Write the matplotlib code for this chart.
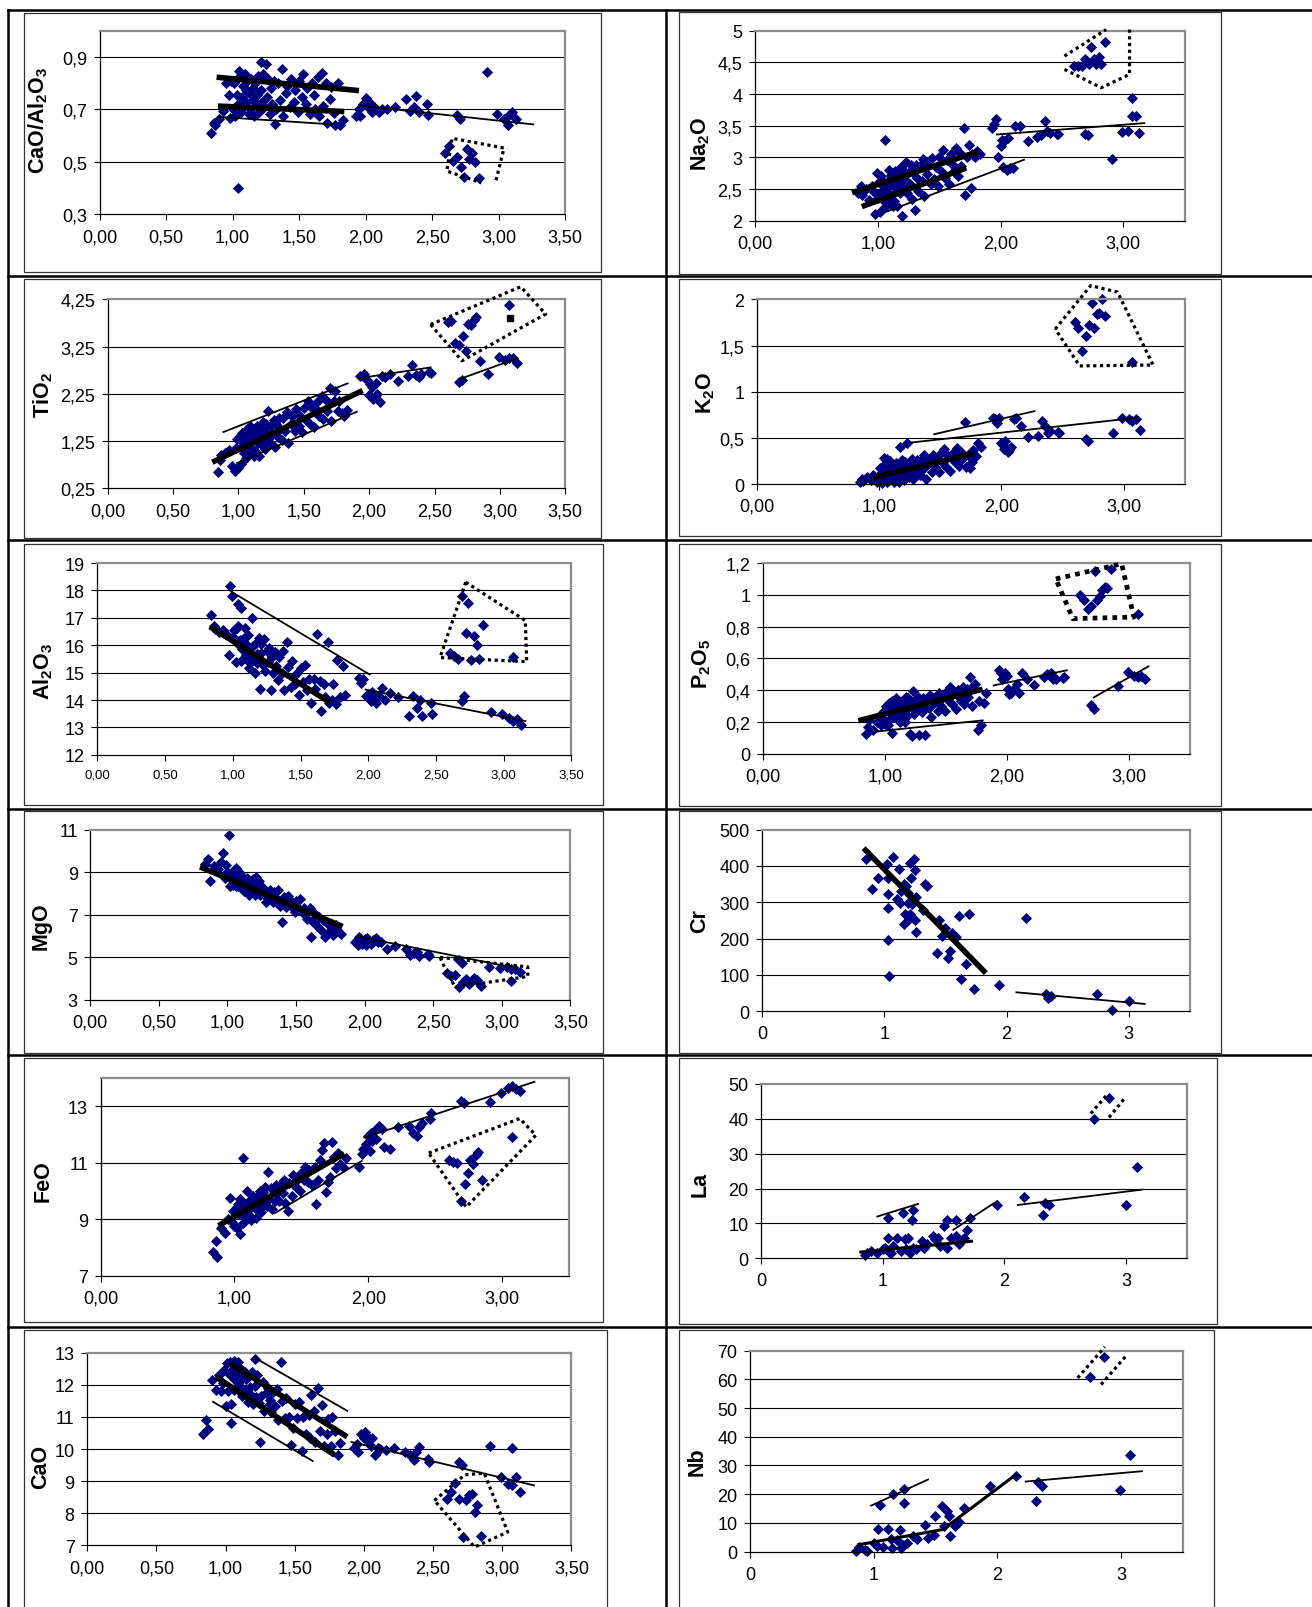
import numpy as np
import matplotlib
matplotlib.use('Agg')
import matplotlib.pyplot as plt
from matplotlib import font_manager
from matplotlib.lines import Line2D
from matplotlib.patches import Rectangle

# reference was read at 1279x1568, output is 1312x1608 (same proportions)
W, H = 1279.0, 1568.0

# ===== shared x (FeO*/MgO) for the oxide panels =====
X_OX = [
    # main cluster
    0.84, 0.86, 0.87, 0.90, 0.93, 0.95, 0.97, 0.98, 0.99, 1.00,
    1.01, 1.02, 1.03, 1.03, 1.04, 1.05, 1.06, 1.06, 1.07, 1.08,
    1.08, 1.09, 1.10, 1.10, 1.11, 1.12, 1.12, 1.13, 1.14, 1.15,
    1.15, 1.16, 1.17, 1.18, 1.18, 1.19, 1.20, 1.21, 1.21, 1.22,
    1.23, 1.24, 1.25, 1.26, 1.27, 1.28, 1.29, 1.30, 1.31, 1.32,
    1.33, 1.34, 1.36, 1.37, 1.38, 1.40, 1.41, 1.43, 1.44, 1.46,
    1.47, 1.49, 1.50, 1.52, 1.53, 1.55, 1.56, 1.58, 1.60, 1.61,
    1.62, 1.64, 1.65, 1.67, 1.68, 1.70, 1.71, 1.73, 1.74, 1.76,
    1.77, 1.79, 1.81, 1.83, 1.04,
    # around 2
    1.93, 1.95, 1.96, 1.98, 2.00, 2.01, 2.02, 2.03, 2.05, 2.06, 2.08,
    2.10, 2.12, 2.16, 2.22, 2.30, 2.33, 2.36, 2.38, 2.40, 2.46, 2.47,
    # dotted group
    2.60, 2.63, 2.66, 2.69, 2.72, 2.74, 2.76, 2.78, 2.80, 2.82, 2.85, 3.07,
    # high ratio
    2.69, 2.71, 2.91, 2.99, 3.04, 3.07, 3.10, 3.13,
]

Y_CAO_AL2O3 = [
    0.61, 0.65, 0.64, 0.665, 0.693, 0.80, 0.756, 0.666, 0.81, 0.702,
    0.80, 0.674, 0.755, 0.818, 0.719, 0.845, 0.692, 0.827, 0.746, 0.791,
    0.71, 0.836, 0.728, 0.773, 0.809, 0.683, 0.764, 0.701, 0.818, 0.737,
    0.782, 0.674, 0.80, 0.755, 0.719, 0.827, 0.692, 0.88, 0.773, 0.728,
    0.836, 0.71, 0.875, 0.746, 0.818, 0.683, 0.782, 0.719, 0.809, 0.645,
    0.701, 0.80, 0.737, 0.855, 0.674, 0.764, 0.791, 0.71, 0.818, 0.728,
    0.773, 0.692, 0.809, 0.746, 0.836, 0.719, 0.782, 0.683, 0.80, 0.755,
    0.703, 0.825, 0.676, 0.84, 0.712, 0.802, 0.649, 0.739, 0.784, 0.685,
    0.64, 0.80, 0.64, 0.66, 0.40,
    0.675, 0.70, 0.675, 0.72, 0.745, 0.735, 0.71, 0.725, 0.69, 0.71, 0.70,
    0.69, 0.70, 0.70, 0.71, 0.74, 0.695, 0.71, 0.75, 0.69, 0.72, 0.68,
    0.535, 0.56, 0.504, 0.52, 0.48, 0.444, 0.55, 0.51, 0.533, 0.50, 0.437, 0.64,
    0.68, 0.665, 0.842, 0.684, 0.665, 0.675, 0.69, 0.665,
]

Y_NA2O = [
    2.43, 2.55, 2.40, 2.50, 2.33, 2.55, 2.45, 2.10, 2.75, 2.35,
    2.61, 2.13, 2.45, 2.70, 2.32, 2.57, 2.22, 3.27, 2.46, 2.63,
    2.31, 2.80, 2.40, 2.58, 2.72, 2.23, 2.55, 2.31, 2.78, 2.47,
    2.64, 2.23, 2.73, 2.56, 2.43, 2.85, 2.07, 2.79, 2.65, 2.48,
    2.92, 2.43, 2.75, 2.58, 2.87, 2.34, 2.75, 2.17, 2.87, 2.67,
    2.46, 2.86, 2.62, 2.97, 2.38, 2.74, 2.88, 2.58, 2.99, 2.66,
    2.85, 2.55, 3.00, 2.77, 3.12, 2.67, 2.95, 2.58, 3.05, 2.88,
    2.78, 3.15, 2.70, 3.06, 2.86, 3.47, 2.41, 3.00, 3.20, 2.52,
    3.05, 3.00, 3.10, 3.05, 2.55,
    3.47, 3.52, 3.60, 3.00, 3.18, 3.28, 2.85, 3.25, 2.80, 3.30, 2.83,
    2.83, 3.50, 3.50, 3.25, 3.32, 3.35, 3.57, 3.42, 3.38, 3.37, 3.37,
    4.45, 4.45, 4.45, 4.55, 4.47, 4.75, 4.55, 4.47, 4.58, 4.47, 4.83, 3.65,
    3.37, 3.35, 2.98, 3.40, 3.42, 3.93, 3.65, 3.38,
]

Y_TIO2 = [
    0.60, 0.85, 0.95, 1.00, 1.05, 0.72, 0.62, 1.10, 1.30, 0.67,
    1.31, 0.77, 1.14, 1.42, 0.99, 1.27, 0.89, 1.48, 1.14, 1.35,
    1.00, 1.57, 1.10, 1.30, 1.47, 0.93, 1.29, 1.04, 1.56, 1.21,
    1.41, 0.94, 1.52, 1.33, 1.17, 1.66, 1.08, 1.61, 1.45, 1.26,
    1.88, 1.20, 1.57, 1.37, 1.70, 1.12, 1.62, 1.33, 1.74, 1.51,
    1.28, 1.74, 1.47, 1.87, 1.20, 1.62, 1.77, 1.46, 1.93, 1.57,
    1.78, 1.45, 1.95, 1.70, 2.09, 1.62, 1.95, 1.54, 2.08, 1.89,
    1.78, 2.21, 1.71, 2.12, 1.89, 2.37, 1.68, 2.10, 2.30, 1.88,
    2.10, 1.85, 1.79, 1.90, 1.20,
    2.63, 2.62, 2.68, 2.55, 2.22, 2.45, 2.40, 2.15, 2.48, 2.25, 2.08,
    2.62, 2.60, 2.68, 2.52, 2.63, 2.87, 2.65, 2.60, 2.68, 2.72, 2.70,
    3.78, 3.79, 3.32, 3.28, 3.48, 3.15, 3.73, 3.70, 3.82, 3.87, 2.95, 4.13,
    2.51, 2.55, 2.68, 3.04, 2.97, 3.00, 3.00, 2.90,
]
X_TIO2_REF, Y_TIO2_REF = [3.08], [3.85]   # black square

Y_K2O = [
    0.02, 0.05, 0.03, 0.08, 0.04, 0.10, 0.06, 0.02, 0.09, 0.05,
    0.17, 0.01, 0.10, 0.20, 0.04, 0.15, 0.02, 0.27, 0.09, 0.17,
    0.04, 0.25, 0.07, 0.15, 0.21, 0.02, 0.14, 0.04, 0.23, 0.10,
    0.18, 0.02, 0.40, 0.14, 0.08, 0.26, 0.04, 0.24, 0.18, 0.10,
    0.45, 0.08, 0.22, 0.15, 0.27, 0.05, 0.21, 0.11, 0.26, 0.18,
    0.10, 0.26, 0.16, 0.31, 0.06, 0.22, 0.27, 0.13, 0.32, 0.18,
    0.26, 0.13, 0.33, 0.23, 0.38, 0.19, 0.30, 0.14, 0.34, 0.27,
    0.24, 0.39, 0.20, 0.35, 0.27, 0.67, 0.18, 0.32, 0.17, 0.24,
    0.37, 0.30, 0.44, 0.40, 0.28,
    0.72, 0.70, 0.66, 0.72, 0.45, 0.42, 0.38, 0.47, 0.35, 0.37, 0.40,
    0.70, 0.72, 0.63, 0.51, 0.52, 0.68, 0.63, 0.55, 0.57, 0.56, 0.55,
    1.76, 1.69, 1.44, 1.60, 1.72, 1.96, 1.69, 1.84, 1.85, 2.00, 1.82, 1.32,
    0.49, 0.47, 0.55, 0.72, 0.70, 0.68, 0.71, 0.59,
]

Y_AL2O3 = [
    17.1, 16.7, 16.6, 16.5, 16.55, 16.4, 15.65, 18.15, 17.8, 16.3,
    16.54, 15.40, 16.08, 16.64, 17.5, 16.2, 15.42, 17.35, 15.88, 16.25,
    15.53, 16.62, 15.66, 16.06, 16.38, 15.18, 15.88, 15.34, 17.0, 15.57,
    15.97, 15.0, 16.09, 15.67, 15.35, 16.26, 14.4, 16.06, 15.7, 15.29,
    16.22, 15.07, 15.8, 15.39, 15.9, 14.35, 15.57, 15.0, 15.74, 15.24,
    14.73, 15.58, 14.98, 15.79, 14.38, 16.1, 15.22, 14.48, 15.43, 14.59,
    14.96, 14.18, 15.16, 14.66, 15.29, 14.35, 14.75, 13.89, 14.75, 14.4,
    16.4, 14.7, 13.6, 14.6, 14.1, 16.1, 13.9, 14.0, 14.6, 13.85,
    15.45, 14.1, 15.25, 14.2, 16.7,
    14.8, 14.62, 14.75, 14.15, 14.2, 14.05, 13.95, 14.3, 14.0, 13.9, 14.15,
    14.45, 14.0, 14.25, 14.1, 13.42, 14.15, 13.7, 14.0, 13.4, 13.9, 13.5,
    15.7, 15.6, 15.5, 17.8, 16.45, 17.55, 15.45, 16.35, 16.0, 15.5, 16.75, 15.57,
    13.95, 14.15, 13.55, 13.48, 13.35, 13.25, 13.3, 13.08,
]

Y_P2O5 = [
    0.125, 0.17, 0.21, 0.15, 0.20, 0.24, 0.18, 0.22, 0.27, 0.19,
    0.30, 0.18, 0.26, 0.32, 0.22, 0.29, 0.13, 0.33, 0.25, 0.30,
    0.23, 0.35, 0.24, 0.29, 0.32, 0.20, 0.28, 0.22, 0.33, 0.25,
    0.31, 0.20, 0.36, 0.28, 0.24, 0.35, 0.125, 0.33, 0.30, 0.11,
    0.395, 0.25, 0.33, 0.28, 0.36, 0.12, 0.32, 0.26, 0.35, 0.30,
    0.12, 0.35, 0.29, 0.37, 0.23, 0.32, 0.35, 0.27, 0.38, 0.30,
    0.35, 0.27, 0.39, 0.33, 0.42, 0.31, 0.38, 0.28, 0.40, 0.36,
    0.33, 0.42, 0.31, 0.41, 0.36, 0.485, 0.30, 0.43, 0.44, 0.15,
    0.33, 0.18, 0.32, 0.38, 0.28,
    0.525, 0.51, 0.47, 0.51, 0.49, 0.41, 0.375, 0.385, 0.40, 0.41, 0.44,
    0.38, 0.51, 0.47, 0.43, 0.48, 0.50, 0.51, 0.47, 0.47, 0.475, 0.48,
    1.00, 0.97, 0.91, 0.93, 1.15, 0.97, 0.99, 1.03, 1.05, 1.04, 1.165, 0.88,
    0.305, 0.28, 0.425, 0.515, 0.49, 0.48, 0.49, 0.47,
]

Y_MGO = [
    9.37, 9.6, 8.6, 9.3, 9.15, 9.5, 9.9, 8.75, 9.35, 9.0,
    10.73, 8.33, 8.71, 9.03, 8.51, 8.82, 8.37, 9.21, 8.55, 8.75,
    8.35, 8.95, 8.38, 8.57, 8.74, 8.12, 8.49, 8.16, 8.72, 8.29,
    8.52, 7.95, 8.58, 8.32, 8.14, 8.67, 7.92, 8.77, 8.31, 8.06,
    8.57, 7.91, 8.29, 8.0, 8.23, 7.59, 8.0, 7.77, 8.18, 7.91,
    7.61, 8.08, 7.74, 8.15, 7.42, 6.65, 7.82, 7.35, 7.89, 7.39,
    7.58, 7.12, 7.67, 7.29, 7.72, 7.08, 7.31, 6.80, 7.30, 5.95,
    6.70, 7.05, 6.45, 6.90, 6.30, 6.75, 5.95, 6.55, 6.20, 6.40,
    6.03, 6.50, 6.18, 6.10, 8.40,
    5.72, 5.57, 5.95, 5.63, 5.88, 5.60, 5.90, 5.75, 5.65, 5.80, 5.89,
    5.70, 5.72, 5.40, 5.55, 5.40, 5.10, 5.20, 5.25, 5.05, 5.15, 5.08,
    4.25, 4.10, 4.15, 3.60, 3.85, 3.99, 3.75, 3.90, 4.05, 3.95, 3.65, 3.88,
    4.86, 4.75, 4.55, 4.48, 4.55, 4.45, 4.45, 4.33,
]

Y_FEO = [
    7.83, 8.22, 7.67, 8.70, 8.50, 9.00, 9.76, 8.90, 9.30, 8.75,
    9.38, 8.70, 9.18, 9.53, 8.48, 9.35, 8.86, 11.18, 9.21, 9.51,
    9.06, 10.0, 9.18, 9.44, 9.64, 8.96, 9.43, 9.06, 9.81, 9.39,
    9.64, 9.06, 9.77, 9.56, 9.36, 9.99, 9.26, 9.95, 9.74, 9.51,
    10.14, 9.46, 10.67, 9.71, 10.11, 9.35, 10.02, 9.66, 10.20, 9.92,
    9.64, 10.22, 9.92, 10.39, 9.56, 9.30, 10.27, 9.83, 10.56, 10.13,
    10.40, 10.00, 10.65, 10.38, 10.84, 10.30, 10.74, 10.21, 10.85, 9.55,
    10.40, 11.10, 11.45, 11.68, 9.95, 10.30, 10.50, 11.73, 11.20, 10.80,
    11.35, 10.97, 10.85, 11.15, 9.70,
    10.83, 11.30, 11.50, 11.65, 11.95, 11.40, 12.05, 11.75, 12.15, 11.85, 12.30,
    12.20, 11.55, 11.50, 12.25, 12.30, 12.05, 11.95, 12.25, 12.40, 12.55, 12.75,
    11.10, 11.02, 11.00, 9.66, 10.23, 10.64, 11.08, 10.96, 11.26, 11.38, 10.40, 11.89,
    13.18, 13.10, 13.15, 13.45, 13.65, 13.72, 13.60, 13.55,
]

Y_CAO = [
    10.48, 10.90, 10.64, 12.15, 11.85, 12.30, 11.80, 12.05, 12.45, 11.35,
    12.67, 11.80, 12.32, 12.72, 10.80, 12.45, 11.84, 12.74, 12.15, 12.42,
    11.88, 12.70, 11.98, 12.27, 12.49, 11.64, 12.18, 11.72, 12.40, 11.87,
    12.17, 11.45, 12.28, 11.94, 11.70, 12.40, 11.39, 12.79, 11.97, 11.62,
    12.31, 11.44, 10.22, 11.66, 12.10, 11.20, 11.76, 11.30, 11.90, 11.53,
    11.14, 11.77, 11.33, 11.87, 10.90, 12.72, 11.50, 10.98, 11.60, 11.00,
    10.12, 10.67, 11.41, 10.98, 11.48, 9.93, 11.00, 10.46, 11.06, 10.33,
    11.68, 11.17, 10.22, 11.89, 10.55, 11.37, 10.10, 10.48, 10.95, 10.10,
    11.00, 10.55, 9.81, 10.20, 11.40,
    10.02, 10.17, 9.91, 10.48, 10.33, 10.54, 10.28, 10.38, 10.09, 10.33, 9.81,
    10.02, 10.00, 9.98, 10.02, 9.91, 9.80, 9.65, 9.90, 10.05, 9.70, 9.60,
    8.46, 8.67, 8.93, 8.46, 7.26, 8.41, 8.56, 8.59, 8.04, 8.25, 7.31, 8.88,
    9.60, 9.50, 10.09, 9.13, 8.92, 10.02, 9.13, 8.67,
]

# ===== trace elements (own sample sets) =====
X_CR = [0.85, 0.90, 0.95, 1.02, 1.03, 1.03, 1.03, 1.03, 1.04, 1.07,
        1.12, 1.13, 1.16, 1.16, 1.17, 1.19, 1.21, 1.21, 1.22, 1.23,
        1.24, 1.25, 1.25, 1.26, 1.33, 1.35, 1.32, 1.43, 1.47, 1.50,
        1.52, 1.54, 1.59, 1.61, 1.63, 1.67, 1.69, 1.73, 1.94, 2.16,
        2.32, 2.34, 2.36, 2.74, 2.86, 3.00,
        1.19, 1.26, 1.20, 1.14, 1.10, 1.45, 1.55, 1.18]
Y_CR = [420, 337, 368, 405, 368, 322, 285, 195, 97, 425,
        393, 299, 351, 241, 269, 326, 408, 269, 368, 294,
        420, 388, 250, 217, 351, 345, 278, 160, 206, 230,
        147, 167, 204, 262, 89, 130, 268, 61, 72, 257,
        46, 37, 43, 48, 4, 27,
        297, 314, 255, 330, 310, 250, 215, 345]

X_LA = [0.85, 0.87, 0.90, 0.95, 1.00, 1.02, 1.04, 1.04, 1.05, 1.07,
        1.08, 1.12, 1.15, 1.17, 1.18, 1.19, 1.21, 1.22, 1.24, 1.25,
        1.25, 1.27, 1.32, 1.34, 1.36, 1.41, 1.43, 1.45, 1.47, 1.50,
        1.53, 1.53, 1.56, 1.60, 1.60, 1.63, 1.67, 1.69, 1.72, 1.94,
        2.16, 2.32, 2.33, 2.37, 2.74, 2.86, 3.00, 3.09]
Y_LA = [0.9, 1.6, 2.1, 1.6, 2.6, 3.0, 5.9, 11.5, 1.8, 1.6,
        3.5, 5.9, 2.1, 13.0, 5.4, 2.6, 5.9, 1.6, 11.0, 13.9,
        3.0, 2.6, 4.9, 3.0, 4.0, 6.3, 5.4, 5.9, 3.5, 9.2,
        3.0, 11.0, 5.9, 11.0, 6.3, 4.0, 5.9, 8.2, 11.5, 15.3,
        17.7, 12.3, 15.9, 15.3, 39.9, 46.1, 15.3, 26.2]

X_NB = [0.86, 0.88, 0.93, 0.95, 1.00, 1.03, 1.04, 1.05, 1.08, 1.12,
        1.14, 1.15, 1.16, 1.19, 1.21, 1.22, 1.24, 1.25, 1.25, 1.27,
        1.32, 1.35, 1.42, 1.44, 1.49, 1.50, 1.55, 1.57, 1.59, 1.61,
        1.62, 1.66, 1.69, 1.73, 1.94, 2.15, 2.31, 2.33, 2.36, 2.75,
        2.86, 2.99, 3.07]
Y_NB = [0.3, 1.6, 0.7, 0.2, 3.0, 2.1, 7.9, 16.1, 1.6, 7.9,
        4.4, 1.3, 20.2, 4.2, 7.4, 1.3, 2.4, 16.9, 21.8, 3.0,
        5.3, 4.4, 9.4, 4.8, 5.9, 12.3, 15.8, 8.8, 14.0, 12.3,
        5.3, 8.8, 10.2, 15.2, 23.0, 26.5, 17.5, 24.2, 22.8, 60.7,
        67.8, 21.6, 33.7]

# ===== trend lines and outlined groups (data coordinates) =====
THICK_CAO_AL2O3 = [[(0.88, 0.823), (1.95, 0.772)], [(0.89, 0.713), (1.84, 0.692)]]
THIN_CAO_AL2O3 = [[(0.89, 0.672), (1.75, 0.643)], [(1.95, 0.715), (3.26, 0.643)]]
DOTS_CAO_AL2O3 = [[(2.98, 0.43), (3.04, 0.553), (2.65, 0.59), (2.61, 0.465), (2.87, 0.42)]]

THICK_NA2O = [[(0.79, 2.44), (1.82, 3.09)], [(0.87, 2.22), (1.72, 2.83)]]
THIN_NA2O = [[(1.07, 2.14), (2.19, 2.96)], [(1.97, 3.36), (3.17, 3.54)]]
DOTS_NA2O = [[(2.52, 4.60), (2.86, 5.02)],
             [(3.05, 5.02), (3.05, 4.31), (2.82, 4.10), (2.52, 4.39)]]

THICK_TIO2 = [[(0.80, 0.80), (1.95, 2.32)]]
THIN_TIO2 = [[(0.885, 1.44), (1.835, 2.47)], [(0.99, 0.78), (1.906, 1.87)],
             [(1.92, 2.58), (2.47, 2.81)], [(2.69, 2.56), (3.13, 3.0)]]
DOTS_TIO2 = [[(2.47, 3.72), (3.16, 4.52), (3.35, 3.94), (2.71, 2.95), (2.47, 3.72)]]

THICK_K2O = [[(0.95, 0.07), (1.77, 0.33)]]
THIN_K2O = [[(1.26, 0.45), (3.12, 0.72)], [(1.45, 0.54), (2.27, 0.79)]]
DOTS_K2O = [[(2.44, 1.68), (2.73, 2.15), (2.95, 2.08), (3.24, 1.29), (2.64, 1.28), (2.44, 1.68)]]

THICK_AL2O3 = [[(0.83, 16.68), (1.72, 13.9)]]
THIN_AL2O3 = [[(0.99, 17.95), (2.01, 14.93)], [(1.98, 14.38), (3.16, 13.23)]]
DOTS_AL2O3 = [[(2.72, 18.3), (3.16, 16.9), (3.17, 15.4), (2.53, 15.55), (2.72, 18.3)]]

THICK_P2O5 = [[(0.78, 0.208), (1.80, 0.406)]]
THIN_P2O5 = [[(0.93, 0.14), (1.80, 0.21)], [(1.89, 0.43), (2.49, 0.525)],
             [(2.71, 0.354), (3.16, 0.55)]]
DOTS_P2O5 = [[(2.40, 1.10), (2.94, 1.195), (3.04, 0.86), (2.54, 0.85), (2.40, 1.10)]]

THICK_MGO = [[(0.80, 9.25), (1.84, 6.45)]]
THIN_MGO = [[(1.95, 5.98), (3.10, 4.50)]]
DOTS_MGO = [[(2.55, 5.0), (3.19, 4.55), (3.19, 4.1), (2.66, 3.6), (2.57, 4.7), (2.55, 5.0)]]

THICK_CR = [[(0.83, 449), (1.83, 105)]]
THIN_CR = [[(2.08, 52), (3.13, 20)]]

THICK_FEO = [[(0.88, 8.77), (1.82, 11.32)]]
THIN_FEO = [[(1.30, 9.21), (1.95, 11.06)], [(1.97, 11.89), (3.24, 13.86)]]
DOTS_FEO = [[(2.45, 11.34), (3.13, 12.56), (3.25, 11.97), (2.73, 9.43), (2.45, 11.34)]]

MID_LA = [[(0.82, 1.8), (1.73, 4.9)]]
THIN_LA = [[(0.955, 12.0), (1.29, 15.6)], [(1.58, 8.2), (1.94, 16.4)], [(2.11, 15.3), (3.13, 19.7)]]
DOTS_LA = [[(2.71, 41.5), (2.85, 47.2)], [(2.86, 40.4), (2.99, 46.0)]]

THICK_CAO = [[(1.03, 12.67), (1.88, 10.38)], [(0.93, 12.25), (1.79, 9.81)]]
THIN_CAO = [[(1.22, 12.82), (1.88, 11.19)], [(0.91, 11.47), (1.63, 9.63)],
            [(1.91, 10.22), (3.23, 8.87)]]
DOTS_CAO = [[(2.51, 8.4), (2.73, 9.2), (2.87, 9.25), (3.04, 7.42), (2.80, 6.95), (2.51, 8.4)]]

MID_NB = [[(0.88, 2.4), (1.56, 7.7), (2.15, 26.8)]]
THIN_NB = [[(0.98, 16.0), (1.44, 25.1)], [(2.23, 24.4), (3.17, 28.0)]]
DOTS_NB = [[(2.65, 60.5), (2.87, 71.3)], [(2.84, 58.2), (3.05, 68.6)]]

# ===== axis ticks =====
XT_HALF = [0, 0.5, 1, 1.5, 2, 2.5, 3, 3.5]
XT_UNIT = [0, 1, 2, 3]
YT_CAO_AL2O3 = [0.3, 0.5, 0.7, 0.9]
YT_NA2O = [2, 2.5, 3, 3.5, 4, 4.5, 5]
YT_TIO2 = [0.25, 1.25, 2.25, 3.25, 4.25]
YT_K2O = [0, 0.5, 1, 1.5, 2]
YT_AL2O3 = [12, 13, 14, 15, 16, 17, 18, 19]
YT_P2O5 = [0, 0.2, 0.4, 0.6, 0.8, 1.0, 1.2]
YT_MGO = [3, 5, 7, 9, 11]
YT_CR = [0, 100, 200, 300, 400, 500]
YT_FEO = [7, 9, 11, 13]
YT_LA = [0, 10, 20, 30, 40, 50]
YT_CAO = [7, 8, 9, 10, 11, 12, 13]
YT_NB = [0, 10, 20, 30, 40, 50, 60, 70]

# ===== fonts =====
installed = {f.name for f in font_manager.fontManager.ttflist}
TICK_FONT = 'Liberation Sans Narrow' if 'Liberation Sans Narrow' in installed else 'Liberation Sans'
plt.rcParams['font.family'] = ['Liberation Sans', 'DejaVu Sans']
plt.rcParams['mathtext.fontset'] = 'custom'
plt.rcParams['mathtext.rm'] = 'Liberation Sans'
plt.rcParams['mathtext.bf'] = 'Liberation Sans:bold'
plt.rcParams['mathtext.it'] = 'Liberation Sans:italic'

NAVY = '#000080'
TICK_SIZE = 13.5 if TICK_FONT.endswith('Narrow') else 13


def comma(v, fmt):
    return (fmt % v).replace('.', ',')


def fig_line(fig, x0, y0, x1, y1, lw=1.8):
    fig.add_artist(Line2D([x0 / W, x1 / W], [1 - y0 / H, 1 - y1 / H],
                          transform=fig.transFigure, color='black', lw=lw))


def draw_panel(fig, p):
    bx0, by0, bx1, by1 = p['box']
    fig.add_artist(Rectangle((bx0 / W, 1 - by1 / H), (bx1 - bx0) / W, (by1 - by0) / H,
                             transform=fig.transFigure, fill=False, ec='#333333', lw=0.9))
    px0, py0, px1, py1 = p['plot']
    ax = fig.add_axes([px0 / W, 1 - py1 / H, (px1 - px0) / W, (py1 - py0) / H])
    ax.set_xlim(0, 3.5)
    ax.set_ylim(*p['ylim'])

    for s in ('top', 'right'):
        ax.spines[s].set_color('#8c8c8c')
        ax.spines[s].set_linewidth(1.6)
    for s in ('left', 'bottom'):
        ax.spines[s].set_color('black')
        ax.spines[s].set_linewidth(0.9)

    yt = p['yt']
    for t in yt:
        if p['ylim'][0] < t < p['ylim'][1]:
            ax.axhline(t, color='black', lw=0.8, zorder=0.5)
    ax.set_yticks(yt)
    ax.set_yticklabels([comma(v, '%g') for v in yt], fontfamily=TICK_FONT, fontsize=TICK_SIZE)
    ax.set_xticks(p['xt'])
    ax.set_xticklabels([comma(v, p['xfmt']) for v in p['xt']], fontfamily=TICK_FONT,
                       fontsize=p.get('xsize', TICK_SIZE))
    ax.tick_params(direction='out', length=4, width=0.8, color='black')
    ax.tick_params(axis='y', pad=5)
    ax.tick_params(axis='x', pad=6)

    ax.plot(p['x'], p['y'], 'D', color=NAVY, ms=5.6, mec=NAVY, mew=0.6, zorder=2, clip_on=False)
    if 'ref' in p:
        ax.plot(p['ref'][0], p['ref'][1], 's', color='black', ms=4.5, zorder=3)

    for seg in p.get('thick', []):
        xs, ys = zip(*seg)
        ax.plot(xs, ys, color='black', lw=4.0, solid_capstyle='butt', zorder=4)
    for seg in p.get('mid', []):
        xs, ys = zip(*seg)
        ax.plot(xs, ys, color='black', lw=2.2, zorder=4)
    for seg in p.get('thin', []):
        xs, ys = zip(*seg)
        ax.plot(xs, ys, color='black', lw=1.3, zorder=4)
    for seg in p.get('dots', []):
        xs, ys = zip(*seg)
        ax.plot(xs, ys, color='black', lw=p.get('dot_lw', 2.3), linestyle=(0, (1, 1.1)),
                zorder=5, clip_on=False)

    lx, ly = p['lab']
    fig.text(lx / W, 1 - ly / H, p['label'], rotation=90, ha='center', va='center',
             fontsize=15.5, fontweight='bold')
    return ax


PANELS = [
    dict(box=(23, 14, 586, 266), plot=(97, 31, 551, 210), lab=(37, 117),
         label=r'$\mathbf{CaO/Al_2O_3}$', x=X_OX, y=Y_CAO_AL2O3, ylim=(0.3, 1.0),
         yt=YT_CAO_AL2O3, xt=XT_HALF, xfmt='%.2f',
         thick=THICK_CAO_AL2O3, thin=THIN_CAO_AL2O3, dots=DOTS_CAO_AL2O3),
    dict(box=(662, 13, 1190, 268), plot=(736, 31, 1155, 216), lab=(683, 140),
         label=r'$\mathbf{Na_2O}$', x=X_OX, y=Y_NA2O, ylim=(2, 5),
         yt=YT_NA2O, xt=XT_UNIT, xfmt='%.2f',
         thick=THICK_NA2O, thin=THIN_NA2O, dots=DOTS_NA2O),
    dict(box=(23, 273, 586, 526), plot=(105, 293, 551, 477), lab=(42, 385),
         label=r'$\mathbf{TiO_2}$', x=X_OX, y=Y_TIO2, ylim=(0.25, 4.25),
         yt=YT_TIO2, xt=XT_HALF, xfmt='%.2f', ref=(X_TIO2_REF, Y_TIO2_REF),
         thick=THICK_TIO2, thin=THIN_TIO2, dots=DOTS_TIO2),
    dict(box=(662, 273, 1190, 524), plot=(738, 293, 1155, 473), lab=(688, 383),
         label=r'$\mathbf{K_2O}$', x=X_OX, y=Y_K2O, ylim=(0, 2),
         yt=YT_K2O, xt=XT_UNIT, xfmt='%.2f',
         thick=THICK_K2O, thin=THIN_K2O, dots=DOTS_K2O),
    dict(box=(23, 531, 588, 786), plot=(95, 550, 557, 737), lab=(42, 655),
         label=r'$\mathbf{Al_2O_3}$', x=X_OX, y=Y_AL2O3, ylim=(12, 19),
         yt=YT_AL2O3, xt=XT_HALF, xfmt='%.2f', xsize=9.5,
         thick=THICK_AL2O3, thin=THIN_AL2O3, dots=DOTS_AL2O3),
    dict(box=(662, 531, 1190, 787), plot=(744, 550, 1160, 736), lab=(684, 647),
         label=r'$\mathbf{P_2O_5}$', x=X_OX, y=Y_P2O5, ylim=(0, 1.2),
         yt=YT_P2O5, xt=XT_UNIT, xfmt='%.2f',
         thick=THICK_P2O5, thin=THIN_P2O5, dots=DOTS_P2O5, dot_lw=3.4),
    dict(box=(23, 792, 588, 1028), plot=(88, 810, 556, 976), lab=(40, 903),
         label='MgO', x=X_OX, y=Y_MGO, ylim=(3, 11),
         yt=YT_MGO, xt=XT_HALF, xfmt='%.2f',
         thick=THICK_MGO, thin=THIN_MGO, dots=DOTS_MGO),
    dict(box=(662, 792, 1190, 1028), plot=(743, 810, 1160, 987), lab=(682, 898),
         label='Cr', x=X_CR, y=Y_CR, ylim=(0, 500),
         yt=YT_CR, xt=XT_UNIT, xfmt='%d',
         thick=THICK_CR, thin=THIN_CR),
    dict(box=(23, 1033, 588, 1290), plot=(98, 1052, 555, 1245), lab=(42, 1152),
         label='FeO', x=X_OX, y=Y_FEO, ylim=(7, 14),
         yt=YT_FEO, xt=XT_UNIT, xfmt='%.2f',
         thick=THICK_FEO, thin=THIN_FEO, dots=DOTS_FEO),
    dict(box=(662, 1033, 1186, 1292), plot=(742, 1058, 1157, 1228), lab=(683, 1155),
         label='La', x=X_LA, y=Y_LA, ylim=(0, 50),
         yt=YT_LA, xt=XT_UNIT, xfmt='%d',
         mid=MID_LA, thin=THIN_LA, dots=DOTS_LA),
    dict(box=(23, 1298, 592, 1580), plot=(85, 1320, 557, 1508), lab=(40, 1430),
         label='CaO', x=X_OX, y=Y_CAO, ylim=(7, 13),
         yt=YT_CAO, xt=XT_HALF, xfmt='%.2f',
         thick=THICK_CAO, thin=THIN_CAO, dots=DOTS_CAO),
    dict(box=(662, 1298, 1183, 1580), plot=(731, 1318, 1153, 1514), lab=(680, 1425),
         label='Nb', x=X_NB, y=Y_NB, ylim=(0, 70),
         yt=YT_NB, xt=XT_UNIT, xfmt='%d',
         mid=MID_NB, thin=THIN_NB, dots=DOTS_NB),
]

fig = plt.figure(figsize=(13.12, 16.08), dpi=100)
fig.patch.set_facecolor('white')

for p in PANELS:
    draw_panel(fig, p)

# table grid
for yy in (11, 270, 528, 790, 1030, 1295):
    fig_line(fig, 8, yy, W, yy)
fig_line(fig, 8, 11, 8, H)
fig_line(fig, 649, 11, 649, H)

fig.savefig('out.png', dpi=100, facecolor='white')
